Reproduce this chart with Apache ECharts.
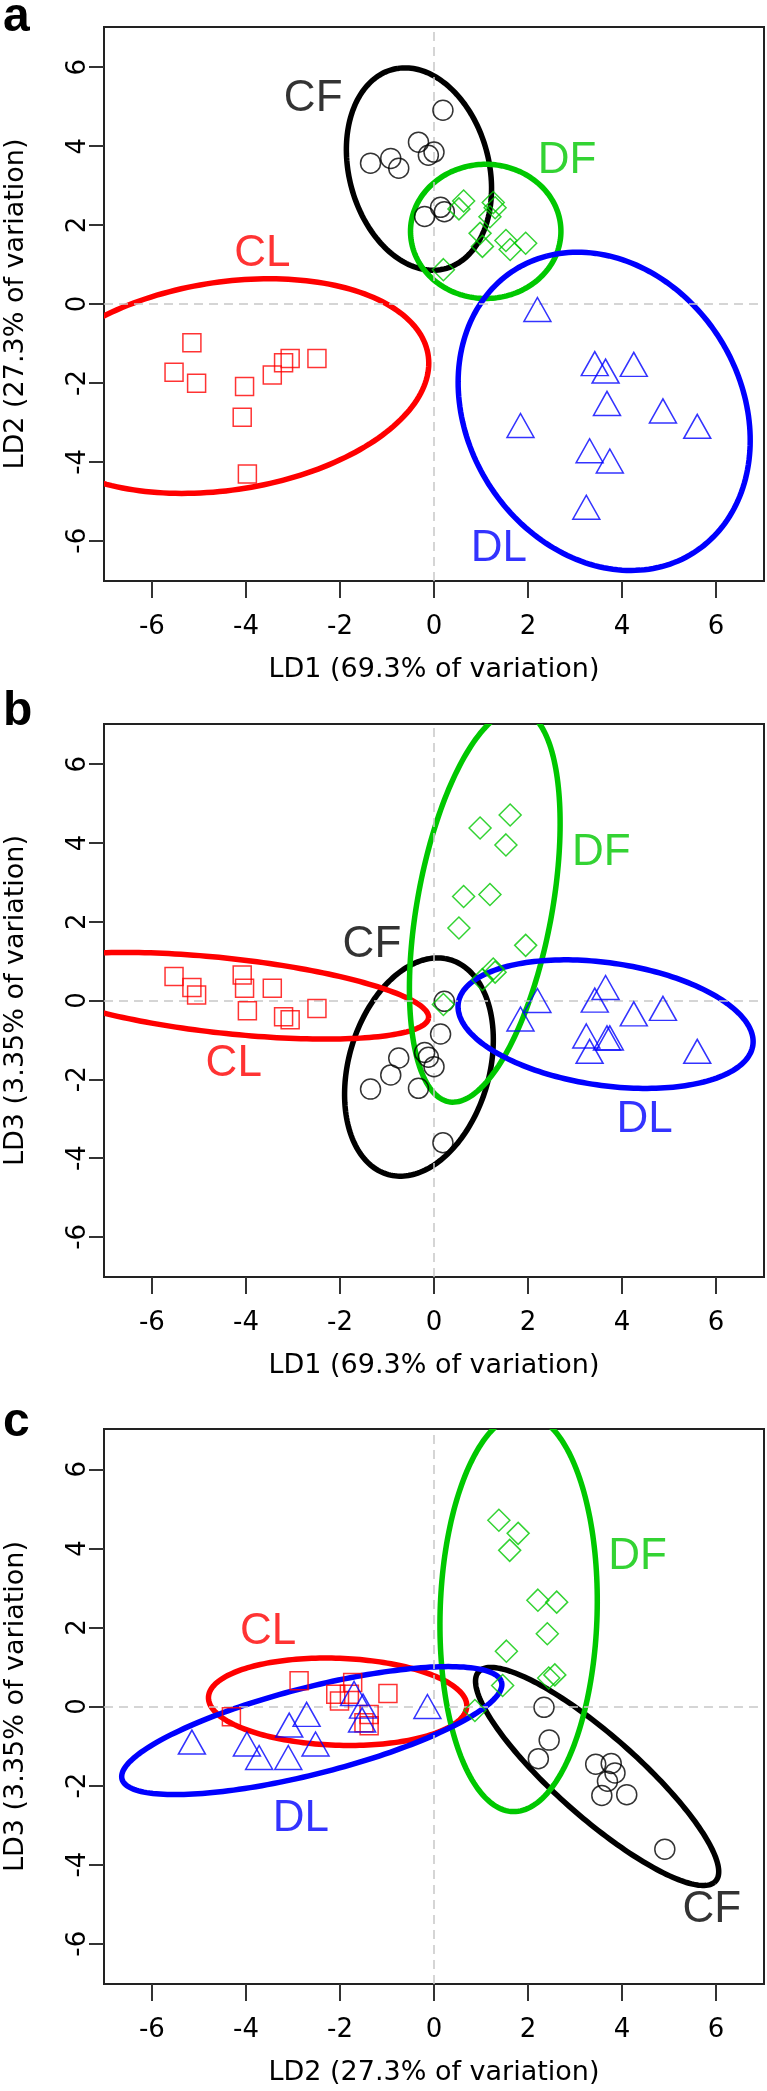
<!DOCTYPE html>
<html><head><meta charset="utf-8">
<script src="https://cdn.jsdelivr.net/npm/echarts@6/dist/echarts.min.js"></script>
<style>html,body{margin:0;padding:0;background:#fff}#c{width:767px;height:2091px}</style>
</head><body><div id="c"></div>
<script>
// ---- tick labels / axis texts ----
const tickValues = [-6, -4, -2, 0, 2, 4, 6];
const axisMin = -7.02, axisMax = 7.02;
const titleLD1 = 'LD1 (69.3% of variation)';
const titleLD2 = 'LD2 (27.3% of variation)';
const titleLD3 = 'LD3 (3.35% of variation)';
const panelLetters = ['a', 'b', 'c'];
const groups = ['CF', 'CL', 'DF', 'DL'];

// ---- discriminant scores per group ----
const CF_LD1 = [0.22, 0.14, -0.20, -0.75, -0.12, 0.00, -0.92, -1.35, -0.33, 0.19];
const CF_LD2 = [2.34, 2.45, 2.22, 3.44, 3.77, 3.85, 3.69, 3.57, 4.10, 4.91];
const CF_LD3 = [-0.02, -0.85, -1.32, -1.46, -1.44, -1.68, -1.89, -2.25, -2.23, -3.61];

const CL_LD1 = [-5.53, -5.15, -5.05, -4.03, -4.08, -3.97, -3.44, -3.20, -3.06, -2.49];
const CL_LD2 = [-1.73, -0.98, -2.01, -2.09, -2.87, -4.31, -1.80, -1.49, -1.38, -1.38];
const CL_LD3 = [0.61, 0.33, 0.14, 0.31, 0.65, -0.26, 0.31, -0.41, -0.49, -0.20];

const DF_LD1 = [1.62, 0.98, 1.53, 0.63, 1.19, 0.53, 1.95, 1.26, 1.30, 1.03, 0.20];
const DF_LD2 = [1.38, 1.79, 1.61, 2.61, 2.21, 2.41, 1.54, 2.57, 2.44, 1.46, 0.87];
const DF_LD3 = [4.71, 4.38, 3.95, 2.64, 2.69, 1.84, 1.40, 0.80, 0.72, 0.53, -0.10];

const DL_LD1 = [2.20, 3.42, 3.65, 4.25, 4.87, 5.60, 1.84, 3.68, 3.31, 3.74, 3.24];
const DL_LD2 = [-0.14, -1.51, -1.70, -1.53, -2.71, -3.10, -3.08, -2.52, -3.72, -3.98, -5.15];
const DL_LD3 = [0.00, 0.01, 0.33, -0.34, -0.20, -1.29, -0.47, -0.95, -1.29, -0.95, -0.90];

// ---- ellipses: [centreX, centreY, semiMajor, semiMinor, angleDeg], order CF, CL, DF, DL ----
const ellipsesA = [[-0.32, 3.42, 2.59, 1.50, 100], [-4.43, -2.08, 4.38, 2.62, 12], [1.10, 1.84, 1.70, 1.60, 90], [3.62, -2.72, 4.12, 2.99, 107.3]];
const ellipsesB = [[-0.32, -1.69, 2.81, 1.51, 78.5], [-4.43, 0.12, 4.35, 0.95, -7.5], [1.08, 2.40, 5.03, 1.44, 81.6], [3.65, -0.60, 3.18, 1.55, -10.6]];
const ellipsesC = [[3.47, -1.77, 3.66, 0.95, -47.1], [-2.05, 0.12, 2.75, 1.10, -2.5], [1.80, 2.37, 5.03, 1.67, 88.7], [-2.60, -0.61, 4.22, 1.08, 17.2]];

// ---- group label anchors (data coords), order CF, CL, DF, DL ----
const labelsA = [[-2.57, 5.19], [-3.65, 1.28], [2.83, 3.63], [1.38, -6.21]];
const labelsB = [[-1.32, 1.41], [-4.26, -1.60], [3.56, 3.75], [4.48, -3.02]];
const labelsC = [[5.91, -5.14], [-3.53, 1.89], [4.33, 3.79], [-2.83, -2.83]];

// ---- styling ----
const FONT = '"Liberation Sans", Arial, sans-serif';
const AXFONT = '"DejaVu Sans", sans-serif';
const colors = {CF: '#000000', CL: '#ff0000', DF: '#00c800', DL: '#0000ff'};
const symbols = {CF: 'circle', CL: 'rect', DF: 'diamond', DL: 'triangle'};
const symbolSizes = {CF: 20, CL: 18, DF: 22, DL: [27, 24]};

const scores = {
  CF: {LD1: CF_LD1, LD2: CF_LD2, LD3: CF_LD3},
  CL: {LD1: CL_LD1, LD2: CL_LD2, LD3: CL_LD3},
  DF: {LD1: DF_LD1, LD2: DF_LD2, LD3: DF_LD3},
  DL: {LD1: DL_LD1, LD2: DL_LD2, LD3: DL_LD3}
};
const titles = {LD1: titleLD1, LD2: titleLD2, LD3: titleLD3};

const panels = [
  {x: 'LD1', y: 'LD2', top: 27, height: 554, ell: ellipsesA, lab: labelsA, letterTop: -6},
  {x: 'LD1', y: 'LD3', top: 724, height: 553, ell: ellipsesB, lab: labelsB, letterTop: 688},
  {x: 'LD2', y: 'LD3', top: 1429, height: 555, ell: ellipsesC, lab: labelsC, letterTop: 1399}
];

function ellipseRenderer(color) {
  return function (params, api) {
    const cx = api.value(0), cy = api.value(1), a = api.value(2), b = api.value(3);
    const ang = api.value(4) * Math.PI / 180;
    const pts = [];
    for (let k = 0; k <= 200; k++) {
      const t = k / 200 * 2 * Math.PI;
      const ex = a * Math.cos(t), ey = b * Math.sin(t);
      pts.push(api.coord([cx + ex * Math.cos(ang) - ey * Math.sin(ang), cy + ex * Math.sin(ang) + ey * Math.cos(ang)]));
    }
    return {type: 'polyline', shape: {points: pts}, style: {stroke: color, lineWidth: 5.5, fill: null}};
  };
}

const grid = [], xAxis = [], yAxis = [], series = [], graphic = [];
panels.forEach((p, i) => {
  grid.push({left: 104, width: 660, top: p.top, height: p.height, show: true, containLabel: false, outerBoundsMode: 'none',
    borderColor: '#222', borderWidth: 2, backgroundColor: 'transparent'});
  xAxis.push({
    gridIndex: i, type: 'value', min: axisMin, max: axisMax,
    axisLine: {show: false, onZero: false}, splitLine: {show: false},
    axisTick: {show: true, length: 17, customValues: tickValues, lineStyle: {color: '#333', width: 2}},
    axisLabel: {customValues: tickValues, fontSize: 26, color: '#000', margin: 33, fontFamily: AXFONT},
    name: titles[p.x], nameLocation: 'middle', nameGap: 75,
    nameTextStyle: {fontSize: 27, color: '#000', fontFamily: AXFONT}
  });
  yAxis.push({
    gridIndex: i, type: 'value', min: axisMin, max: axisMax,
    axisLine: {show: false, onZero: false}, splitLine: {show: false},
    axisTick: {show: true, length: 15, customValues: tickValues, lineStyle: {color: '#333', width: 2}},
    axisLabel: {customValues: tickValues, fontSize: 26, color: '#000', margin: 13, rotate: 90, fontFamily: AXFONT},
    name: titles[p.y], nameLocation: 'middle', nameGap: 75, nameRotate: 90,
    nameTextStyle: {fontSize: 27, color: '#000', fontFamily: AXFONT}
  });
  // dashed zero reference lines
  series.push({
    type: 'scatter', xAxisIndex: i, yAxisIndex: i, data: [], z: 1, silent: true,
    markLine: {silent: true, symbol: 'none', label: {show: false},
      lineStyle: {type: [9, 6], color: '#c8c8c8', width: 1.5},
      data: [{xAxis: 0}, {yAxis: 0}]}
  });
  groups.forEach((g, gi) => {
    series.push({
      type: 'custom', xAxisIndex: i, yAxisIndex: i, clip: true, silent: true, z: 3,
      data: [p.ell[gi]], renderItem: ellipseRenderer(colors[g])
    });
  });
  groups.forEach((g) => {
    const xs = scores[g][p.x], ys = scores[g][p.y];
    series.push({
      type: 'scatter', xAxisIndex: i, yAxisIndex: i, z: 5, silent: true,
      symbol: symbols[g], symbolSize: symbolSizes[g],
      itemStyle: {color: 'rgba(0,0,0,0)', borderColor: colors[g], borderWidth: 1.5},
      data: xs.map((v, k) => [v, ys[k]])
    });
  });
  series.push({
    type: 'scatter', xAxisIndex: i, yAxisIndex: i, z: 6, silent: true, symbolSize: 1,
    itemStyle: {color: 'rgba(0,0,0,0)'},
    label: {show: true, position: 'inside', formatter: '{b}', fontSize: 44, fontFamily: FONT},
    data: groups.map((g, gi) => ({name: g, value: p.lab[gi], label: {color: colors[g]}}))
  });
  graphic.push({type: 'text', left: 3, top: p.letterTop, style: {text: panelLetters[i], font: 'bold 48px ' + FONT, fill: '#000'}});
});

const chart = echarts.init(document.getElementById('c'), null, {renderer: 'canvas'});
chart.setOption({animation: false, backgroundColor: '#fff', grid, xAxis, yAxis, series, graphic});
</script>
</body></html>
